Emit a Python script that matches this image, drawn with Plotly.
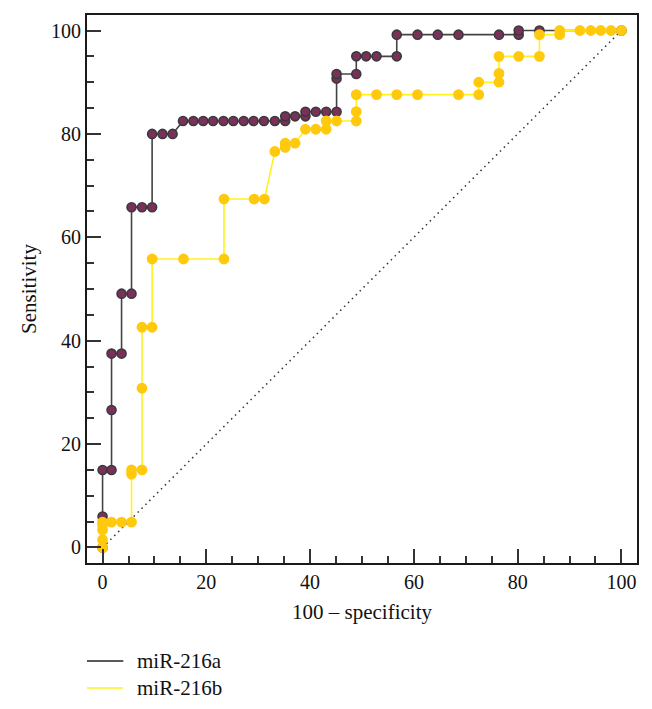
import plotly.graph_objects as go

# miR-216a ROC points (100 - specificity, sensitivity)
a_x = [0, 0, 0, 1.73, 1.73, 1.73, 3.66, 3.66, 5.58, 5.58, 7.6, 9.55, 9.55, 11.55, 13.5,
       15.5, 17.5, 19.4, 21.3, 23.3, 25.2, 27.2, 29.1, 31.1, 33.2, 35.2, 35.2, 37.1, 39.1, 39.1,
       41.1, 43.1, 45.1, 45.1, 45.1, 48.9, 48.9, 50.8, 52.8, 56.7, 56.7, 60.7, 64.6, 68.6,
       76.4, 80.2, 80.2, 84.2, 100]
a_y = [0, 6.0, 15.0, 15.0, 26.6, 37.5, 37.5, 49.1, 49.1, 65.8, 65.8, 65.8, 80.0, 80.0, 80.0,
       82.5, 82.5, 82.5, 82.5, 82.5, 82.5, 82.5, 82.5, 82.5, 82.5, 82.5, 83.4, 83.4, 83.4, 84.3,
       84.3, 84.3, 84.3, 90.7, 91.6, 91.6, 95.0, 95.0, 95.0, 95.0, 99.2, 99.2, 99.2, 99.2,
       99.2, 99.2, 100, 100, 100]

# miR-216b ROC points
b_x = [0, 0, 0, 0, 0, 1.73, 3.66, 5.58, 5.58, 5.58, 7.6, 7.6, 7.6, 9.55, 9.55, 15.6, 23.4,
       23.4, 29.2, 31.2, 33.2, 35.2, 35.2, 37.1, 39.1, 41.1, 43.1, 43.1, 45.1, 48.9, 48.9, 48.9,
       52.8, 56.7, 60.7, 68.6, 72.5, 72.5, 76.4, 76.4, 76.4, 80.2, 84.2, 84.2, 88.1, 88.1,
       92.0, 94.1, 96.0, 98.0, 100]
b_y = [0, 1.5, 3.4, 4.4, 4.9, 4.9, 4.9, 4.9, 14.2, 15.0, 15.0, 30.8, 42.6, 42.6, 55.8, 55.8, 55.8,
       67.4, 67.4, 67.4, 76.6, 77.4, 78.2, 78.2, 80.9, 80.9, 80.9, 82.5, 82.5, 82.5, 84.3, 87.6,
       87.6, 87.6, 87.6, 87.6, 87.6, 90.0, 90.0, 91.7, 95.0, 95.0, 95.0, 99.2, 99.2, 100,
       100, 100, 100, 100, 100]

diag_x = [0, 100]
diag_y = [0, 100]

names = ["miR-216a", "miR-216b"]
x_ticks = [0, 20, 40, 60, 80, 100]
y_ticks = [0, 20, 40, 60, 80, 100]

FONT = "Liberation Serif"

fig = go.Figure()
fig.add_trace(go.Scatter(x=diag_x, y=diag_y, mode="lines",
                         line=dict(color="#333333", width=1.5, dash="1.5px,4px"),
                         showlegend=False, hoverinfo="skip"))
fig.add_trace(go.Scatter(x=a_x, y=a_y, mode="lines+markers", name=names[0],
                         line=dict(color="#444444", width=1.6),
                         marker=dict(size=9, color="#7B2F5B",
                                     line=dict(color="#3A3A3A", width=1.6)),
                         showlegend=False))
fig.add_trace(go.Scatter(x=b_x, y=b_y, mode="lines+markers", name=names[1],
                         line=dict(color="#FFF21F", width=1.6),
                         marker=dict(size=9, color="#FFC90E",
                                     line=dict(color="#FFC90E", width=1.8)),
                         showlegend=False))

axis_common = dict(
    range=[-3, 103], showgrid=False, zeroline=False, automargin=False,
    showline=True, linecolor="#1a1a1a", linewidth=2, mirror=True,
    ticks="inside", ticklen=14, tickwidth=2, tickcolor="#333333",
    tickfont=dict(family=FONT, size=20, color="#111111"),
    minor=dict(ticks="inside", ticklen=7, tickwidth=1.6, dtick=5, tickcolor="#333333"),
)

fig.update_xaxes(**axis_common, tickvals=x_ticks,
                 title=dict(text="100 \u2013 specificity", font=dict(family=FONT, size=21, color="#111111"),
                            standoff=12))
fig.update_yaxes(**axis_common, tickvals=y_ticks,
                 title=dict(text="Sensitivity", font=dict(family=FONT, size=21, color="#111111"),
                            standoff=9))

# legend drawn below the plot area
leg_colors = ["#222222", "#FFF21F"]
leg_y = [-0.1788, -0.228]
for nm, c, yy in zip(names, leg_colors, leg_y):
    fig.add_shape(type="line", xref="paper", yref="paper", x0=0.0, x1=0.066, y0=yy, y1=yy,
                  line=dict(color=c, width=1.5))
    fig.add_annotation(xref="paper", yref="paper", x=0.088, y=yy, text=nm, showarrow=False,
                       xanchor="left", yanchor="middle",
                       font=dict(family=FONT, size=21, color="#111111"))

fig.update_layout(
    width=652, height=709,
    margin=dict(l=79, r=23, t=7, b=154),
    paper_bgcolor="white", plot_bgcolor="white",
    font=dict(family=FONT),
)

fig.write_html("out.html")
